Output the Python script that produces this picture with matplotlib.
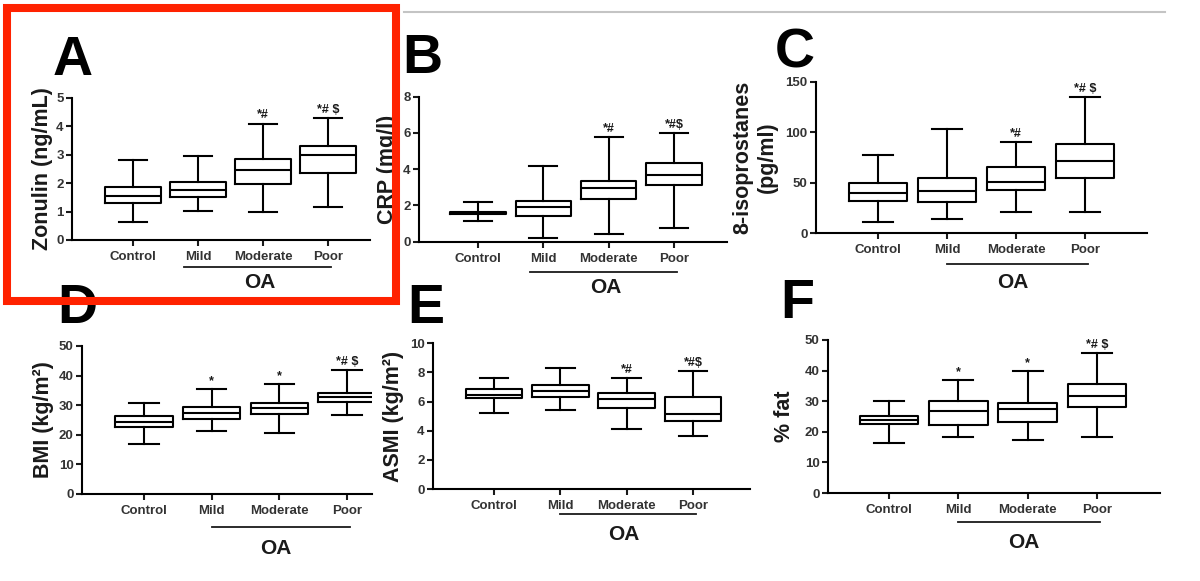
import matplotlib
matplotlib.use("Agg")
import matplotlib.pyplot as plt
import matplotlib.transforms as mtransforms
from matplotlib.patches import Rectangle
from matplotlib.lines import Line2D

plt.rcParams['font.family'] = ['Liberation Sans', 'DejaVu Sans']

W, H = 1200, 581

categories = ['Control', 'Mild', 'Moderate', 'Poor']

# each row: lower whisker, Q1, median, Q3, upper whisker
zonulin = [[0.64, 1.32, 1.55, 1.85, 2.80],
           [1.03, 1.52, 1.76, 2.04, 2.97],
           [1.00, 1.97, 2.48, 2.85, 4.10],
           [1.15, 2.37, 2.99, 3.31, 4.30]]
crp = [[1.12, 1.54, 1.60, 1.66, 2.19],
       [0.20, 1.42, 1.90, 2.23, 4.20],
       [0.44, 2.36, 2.95, 3.33, 5.76],
       [0.74, 3.11, 3.70, 4.33, 5.98]]
isoprostanes = [[11.5, 32.0, 39.6, 49.4, 77.0],
                [14.0, 31.0, 41.5, 54.7, 103.0],
                [21.4, 43.2, 50.4, 65.3, 90.3],
                [21.4, 54.4, 71.2, 88.7, 134.8]]
bmi = [[16.8, 22.7, 24.4, 26.5, 30.6],
       [21.4, 25.5, 27.5, 29.3, 35.4],
       [20.5, 27.0, 28.9, 30.6, 37.0],
       [26.7, 31.0, 32.7, 34.2, 41.9]]
asmi = [[5.19, 6.25, 6.45, 6.89, 7.64],
        [5.45, 6.32, 6.75, 7.14, 8.33],
        [4.12, 5.54, 6.18, 6.61, 7.64],
        [3.64, 4.67, 5.17, 6.34, 8.08]]
fat = [[16.5, 22.4, 23.9, 25.1, 30.0],
       [18.3, 22.3, 26.7, 30.1, 36.8],
       [17.4, 23.2, 27.4, 29.3, 39.9],
       [18.3, 28.0, 31.8, 35.5, 45.7]]

sig_zonulin = ['', '', '*#', r'*# \$']
sig_crp = ['', '', '*#', r'*#\$']
sig_iso = ['', '', '*#', r'*# \$']
sig_bmi = ['', '*', '*', r'*# \$']
sig_asmi = ['', '', '*#', r'*#\$']
sig_fat = ['', '*', '*', r'*# \$']

ylabels = ['Zonulin (ng/mL)', 'CRP (mg/l)', '8-isoprostanes\n(pg/ml)',
           'BMI (kg/m²)', 'ASMI (kg/m²)', '% fat']
letters = ['A', 'B', 'C', 'D', 'E', 'F']
yticks = [[0, 1, 2, 3, 4, 5], [0, 2, 4, 6, 8], [0, 50, 100, 150],
          [0, 10, 20, 30, 40, 50], [0, 2, 4, 6, 8, 10], [0, 10, 20, 30, 40, 50]]

# pixel layout: axis x, axis end x, control x, poor x, y of zero, y of top tick
layout = [(72, 370, 133, 328, 240, 98),
          (419, 727, 478, 674, 241.7, 96.7),
          (816, 1147, 878, 1085, 233.3, 81.7),
          (82, 372, 144, 347, 494, 346),
          (433, 750, 494, 693, 489, 343.3),
          (828, 1160, 889, 1097, 493, 340)]
# letter (left, baseline), ylabel centre x, OA line offset, OA text offset, OA line start
extras = [((53, 75), 43, 27, 43, 0.78),
          ((402, 73), 388, 30, 46, 0.8),
          ((775, 67), 755, 31, 49, 1.0),
          ((57, 323), 43, 33, 54, 1.0),
          ((407, 323), 394, 25, 46, 1.0),
          ((780, 318), 785, 29, 50, 1.0)]

fig = plt.figure(figsize=(W / 100, H / 100), dpi=100)
fig.patch.set_facecolor('white')

lw = 1.5
dark = '#1a1a1a'
panels = [(zonulin, sig_zonulin), (crp, sig_crp), (isoprostanes, sig_iso),
          (bmi, sig_bmi), (asmi, sig_asmi), (fat, sig_fat)]

for k, (data, sig) in enumerate(panels):
    ax_x, end_x, c_x, p_x, y0, ytop = layout[k]
    (lx, ly), lab_x, oa_line, oa_text, oa_start = extras[k]
    ax = fig.add_axes([ax_x / W, 1 - y0 / H, (end_x - ax_x) / W, (y0 - ytop) / H])
    sp = (p_x - c_x) / 3
    ax.set_xlim((ax_x - c_x) / sp, 3 + (end_x - p_x) / sp)
    ax.set_ylim(yticks[k][0], yticks[k][-1])

    stats = [dict(whislo=r[0], q1=r[1], med=r[2], q3=r[3], whishi=r[4], fliers=[])
             for r in data]
    line = dict(color='black', linewidth=lw)
    ax.bxp(stats, positions=range(4), widths=0.85, capwidths=0.43, showfliers=False,
           boxprops=line, whiskerprops=line, capprops=line, medianprops=line)

    for i, s in enumerate(sig):
        if s:
            ax.annotate(s, xy=(i, data[i][4]), xytext=(0, 1.5), textcoords='offset points',
                        ha='center', va='bottom', fontsize=9, fontweight='bold', color=dark)

    ax.set_xticks(range(4))
    ax.set_xticklabels(categories)
    ax.set_yticks(yticks[k])
    for side in ['top', 'right']:
        ax.spines[side].set_visible(False)
    for side in ['left', 'bottom']:
        ax.spines[side].set_linewidth(lw)
    ax.tick_params(axis='both', direction='out', length=4, width=lw, colors=dark,
                   labelsize=9.5, pad=2)
    ax.tick_params(axis='x', pad=4)
    for t in ax.get_xticklabels() + ax.get_yticklabels():
        t.set_fontweight('bold')
        t.set_color('#333333')

    # OA bracket under the three OA groups
    tr = mtransforms.blended_transform_factory(ax.transData, ax.transAxes)
    tr_line = tr + mtransforms.ScaledTranslation(0, -oa_line / 100, fig.dpi_scale_trans)
    tr_text = tr + mtransforms.ScaledTranslation(0, -oa_text / 100, fig.dpi_scale_trans)
    ax.plot([oa_start, 3.05], [0, 0], color=dark, lw=1.3, transform=tr_line, clip_on=False)
    ax.text(1.95, 0, 'OA', transform=tr_text, ha='center', va='center',
            fontsize=15, fontweight='bold', color=dark)

    fig.text(lab_x / W, 1 - (y0 + ytop) / 2 / H, ylabels[k], rotation=90,
             ha='center', va='center', fontsize=15.5, fontweight='bold', color=dark,
             linespacing=1.25, multialignment='center')
    fig.text(lx / W, 1 - ly / H, letters[k], ha='left', va='baseline',
             fontsize=40, fontweight='bold', color='black')

# thin rule at the top of the page and the red highlight box
fig.add_artist(Line2D([404 / W, 1165 / W], [1 - 12 / H, 1 - 12 / H],
                      color='#c4c4c4', lw=1.5))
fig.add_artist(Rectangle((7 / W, 1 - 301 / H), (396 - 7) / W, (301 - 8) / H,
                         transform=fig.transFigure, fill=False,
                         edgecolor='#ff2200', lw=5.8, zorder=10))

fig.savefig('out.png', dpi=100, facecolor='white')
